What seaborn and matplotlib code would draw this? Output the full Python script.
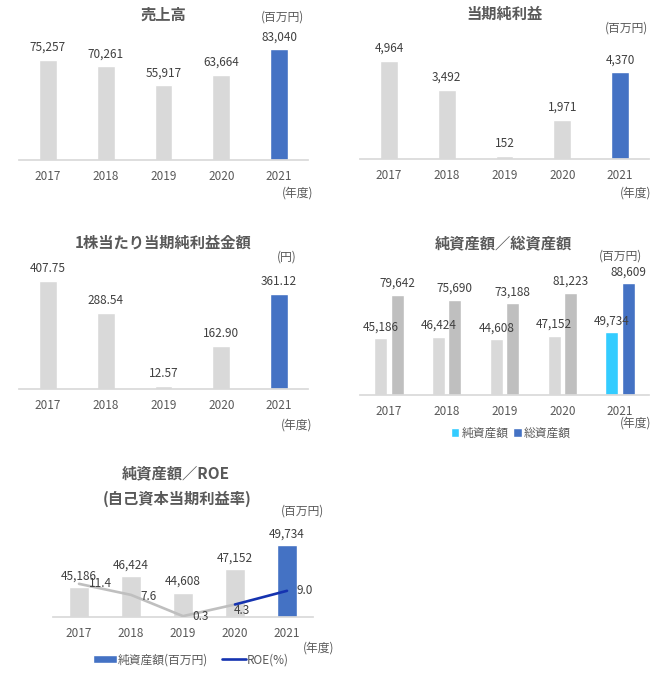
import pandas as pd
import matplotlib.pyplot as plt
import seaborn as sns
from matplotlib.patches import Patch
from matplotlib.lines import Line2D

# --- Daten ---
years = ['2017', '2018', '2019', '2020', '2021']
sales = [75257, 70261, 55917, 63664, 83040]
net_income = [4964, 3492, 152, 1971, 4370]
eps = [407.75, 288.54, 12.57, 162.90, 361.12]
net_assets = [45186, 46424, 44608, 47152, 49734]
total_assets = [79642, 75690, 73188, 81223, 88609]
roe = [11.4, 7.6, 0.3, 4.3, 9.0]

sns.set_theme(style="white")
plt.rcParams['font.family'] = ['Noto Sans CJK JP', 'DejaVu Sans']

GRAY = '#d9d9d9'
GRAY2 = '#bfbfbf'
BLUE = '#4472c4'
CYAN = '#33ccff'
NAVY = '#1533b0'
TXT = '#404040'
TICK = '#595959'
FS = 8.5
TFS = 11

W, H = 660, 674
fig = plt.figure(figsize=(W / 100, H / 100), dpi=100)


def add_ax(left, top, width, height):
    return fig.add_axes([left / W, 1 - (top + height) / H, width / W, height / H])


def ftext(x, y, s, **kw):
    kw.setdefault('color', TICK)
    kw.setdefault('fontsize', FS)
    fig.text(x / W, 1 - y / H, s, ha='center', va='center', **kw)


def style_ax(ax):
    sns.despine(ax=ax, left=True)
    ax.spines['bottom'].set_color(GRAY)
    ax.set_yticks([])
    ax.set_xlabel('')
    ax.set_ylabel('')
    ax.tick_params(axis='x', length=0, pad=7, labelsize=FS, labelcolor=TICK)
    ax.set_xlim(-0.5, 4.5)


def simple_bars(ax, values, labels, width):
    colors = [GRAY] * 4 + [BLUE]
    sns.barplot(x=years, y=values, hue=years, palette=colors, legend=False,
                width=width, saturation=1, ax=ax)
    for i, v in enumerate(values):
        ax.annotate(labels[i], (i, v), xytext=(0, 9), textcoords='offset points',
                    ha='center', va='center', fontsize=FS, color=TXT, annotation_clip=False)
    style_ax(ax)


# --- 売上高 ---
ax1 = add_ax(19, 40, 289, 120)
simple_bars(ax1, sales, [f'{v:,}' for v in sales], 0.31)
ax1.set_ylim(0, 90000)
ftext(163, 15, '売上高', fontsize=TFS, fontweight='bold')
ftext(283, 17, '(百万円)')
ftext(298, 193, '(年度)')

# --- 当期純利益 ---
ax2 = add_ax(360, 50, 289, 109)
simple_bars(ax2, net_income, [f'{v:,}' for v in net_income], 0.31)
ax2.set_ylim(0, 5500)
ftext(505, 14, '当期純利益', fontsize=TFS, fontweight='bold')
ftext(626, 28, '(百万円)')
ftext(636, 193, '(年度)')

# --- 1株当たり当期純利益金額 ---
ax3 = add_ax(19, 270, 289, 119)
simple_bars(ax3, eps, [f'{v:.2f}' for v in eps], 0.31)
ax3.set_ylim(0, 450)
ftext(163, 243, '1株当たり当期純利益金額', fontsize=TFS, fontweight='bold')
ftext(287, 257, '(円)')
ftext(297, 425, '(年度)')

# --- 純資産額／総資産額 ---
ax4 = add_ax(360, 269, 289, 126)
df4 = pd.DataFrame({'year': years * 2,
                    'value': net_assets + total_assets,
                    'kind': ['純資産額'] * 5 + ['総資産額'] * 5})
sns.barplot(data=df4, x='year', y='value', hue='kind', palette=[GRAY, GRAY2],
            width=0.57, gap=0.21, saturation=1, legend=False, ax=ax4)
for cont, vals, hi in zip(ax4.containers, [net_assets, total_assets], [CYAN, BLUE]):
    for p, v in zip(cont, vals):
        cx = p.get_x() + p.get_width() / 2
        if cx > 3.5:
            p.set_facecolor(hi)
        ax4.annotate(f'{v:,}', (cx, v), xytext=(0, 8), textcoords='offset points',
                     ha='center', va='center', fontsize=FS, color=TXT, annotation_clip=False)
style_ax(ax4)
ax4.set_ylim(0, 100000)
ftext(503, 243, '純資産額／総資産額', fontsize=TFS, fontweight='bold')
ftext(620, 256, '(百万円)')
ftext(636, 423, '(年度)')
fig.legend(handles=[Patch(facecolor=CYAN), Patch(facecolor=BLUE)],
           labels=['純資産額', '総資産額'], loc='center', ncol=2, frameon=False,
           bbox_to_anchor=(511 / W, 1 - 433 / H), fontsize=FS, labelcolor=TICK,
           handlelength=0.7, handleheight=0.7, handletextpad=0.2, columnspacing=0.4)

# --- 純資産額／ROE ---
ax5 = add_ax(53, 524, 260, 93)
colors5 = [GRAY] * 4 + [BLUE]
sns.barplot(x=years, y=net_assets, hue=years, palette=colors5, legend=False,
            width=0.4, saturation=1, ax=ax5)
for i, v in enumerate(net_assets):
    ax5.annotate(f'{v:,}', (i, v), xytext=(0, 8), textcoords='offset points',
                 ha='center', va='center', fontsize=FS, color=TXT, annotation_clip=False)
style_ax(ax5)
ax5.set_ylim(42000, 52000)

ax5b = ax5.twinx()
idx = list(range(len(years)))
sns.lineplot(x=idx[:4], y=roe[:4], color=GRAY2, lw=1.9, ax=ax5b)
sns.lineplot(x=idx[3:], y=roe[3:], color=NAVY, lw=1.9, ax=ax5b)
ax5b.set_ylim(0, 93 / 2.91)
ax5b.set_xlim(-0.5, 4.5)
ax5b.set_yticks([])
ax5b.set_ylabel('')
for s in ax5b.spines.values():
    s.set_visible(False)
roe_offsets = [(7, 0), (7, -1), (7, 0), (-1, -4), (7, 0)]
for i, v in enumerate(roe):
    ax5b.annotate(f'{v:.1f}', (i, v), xytext=roe_offsets[i], textcoords='offset points',
                  ha='left', va='center', fontsize=FS, color=TXT, annotation_clip=False)

ftext(176, 473, '純資産額／ROE', fontsize=TFS, fontweight='bold')
ftext(177, 499, '(自己資本当期利益率)', fontsize=TFS, fontweight='bold')
ftext(302, 511, '(百万円)')
ftext(319, 648, '(年度)')
fig.legend(handles=[Patch(facecolor=BLUE), Line2D([], [], color=NAVY, lw=1.9)],
           labels=['純資産額(百万円)', 'ROE(%)'], loc='center', ncol=2, frameon=False,
           bbox_to_anchor=(191 / W, 1 - 660 / H), fontsize=FS, labelcolor=TICK,
           handlelength=2.0, handleheight=0.65, handletextpad=0.1, columnspacing=1.2)

fig.savefig('out.png', dpi=100)
